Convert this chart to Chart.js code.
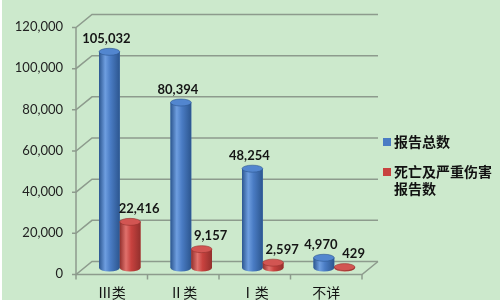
<!DOCTYPE html>
<html>
<head>
<meta charset="utf-8">
<script src="https://cdn.jsdelivr.net/npm/chart.js@4/dist/chart.umd.min.js"></script>
<style>
  html, body { margin: 0; padding: 0; background: #ffffff; }
  #chart { display: block; }
</style>
</head>
<body>
<canvas id="chart" width="500" height="305"></canvas>
<script>
const categories = ['Ⅲ类', 'Ⅱ类', 'Ⅰ类', '不详'];
const totalReports = [105032, 80394, 48254, 4970];
const seriousReports = [22416, 9157, 2597, 429];
const seriesNames = ['报告总数', '死亡及严重伤害报告数'];
const yMin = 0;
const yMax = 120000;
const yStep = 20000;

const cylinder_colors = [
    {edge: '#2c568f', mid: '#4a7cc4', light: '#6e9ee0', top: '#5286cf'},
    {edge: '#93302d', mid: '#c8423f', light: '#e0716c', top: '#d25552'}
];

const depth = {dx: 8, dy: 6.5};   // half depth of the fake 3D box
const line_color = '#8d9b8d';

// green panel (the picture has a thin white margin left and bottom)
const panelPlugin = {
    id: 'panel',
    beforeDraw(chart) {
        const ctx = chart.ctx;
        ctx.save();
        ctx.fillStyle = '#cce9cc';
        ctx.fillRect(2, 0, chart.width - 2, chart.height - 5);
        ctx.restore();
    }
};

// back wall, left wall and floor of the 3D box
const boxPlugin = {
    id: 'box3d',
    beforeDatasetsDraw(chart) {
        const ctx = chart.ctx;
        const ys = chart.scales.y;
        const xs = chart.scales.x;
        const {left, right, top, bottom} = chart.chartArea;
        const dx = depth.dx, dy = depth.dy;

        ctx.save();
        ctx.strokeStyle = line_color;
        ctx.lineWidth = 1.5;

        ys.ticks.forEach(t => {
            const py = ys.getPixelForValue(t.value);
            ctx.beginPath();
            ctx.moveTo(left - dx - 4, py + dy);
            ctx.lineTo(left - dx, py + dy);
            ctx.lineTo(left + dx, py - dy);
            ctx.lineTo(right + dx, py - dy);
            ctx.stroke();
        });

        // front vertical axis + floor front edge
        ctx.beginPath();
        ctx.moveTo(left - dx, top + dy);
        ctx.lineTo(left - dx, bottom + dy);
        ctx.lineTo(right - dx, bottom + dy);
        ctx.lineTo(right + dx, bottom - dy);
        ctx.stroke();

        // category tick marks
        for (let i = 0; i <= categories.length; i++) {
            const bx = xs.getPixelForValue(i - 0.5) - dx;
            ctx.beginPath();
            ctx.moveTo(bx, bottom + dy);
            ctx.lineTo(bx, bottom + dy + 5);
            ctx.stroke();
        }
        ctx.restore();
    }
};

// paint the bars as cylinders, using the positions chart.js computed
const cylinderPlugin = {
    id: 'cylinders',
    afterDatasetsDraw(chart) {
        const ctx = chart.ctx;
        chart.data.datasets.forEach((ds, di) => {
            const meta = chart.getDatasetMeta(di);
            if (meta.hidden) return;
            const c = cylinder_colors[di];
            meta.data.forEach(bar => {
                const {x, y, base, width} = bar.getProps(['x', 'y', 'base', 'width'], true);
                const rx = width / 2;
                const ry = 3.5;
                const grad = ctx.createLinearGradient(x - rx, 0, x + rx, 0);
                grad.addColorStop(0, c.edge);
                grad.addColorStop(0.3, c.light);
                grad.addColorStop(0.55, c.mid);
                grad.addColorStop(1, c.edge);

                ctx.save();
                ctx.fillStyle = grad;
                ctx.beginPath();
                ctx.moveTo(x - rx, y);
                ctx.lineTo(x - rx, base);
                ctx.ellipse(x, base, rx, ry, 0, Math.PI, 0, true);
                ctx.lineTo(x + rx, y);
                ctx.closePath();
                ctx.fill();

                ctx.beginPath();
                ctx.ellipse(x, y, rx, ry, 0, 0, Math.PI * 2);
                ctx.fillStyle = c.top;
                ctx.fill();
                ctx.strokeStyle = c.edge;
                ctx.lineWidth = 0.6;
                ctx.stroke();
                ctx.restore();
            });
        });
    }
};

// value labels above each cylinder
const valueLabelPlugin = {
    id: 'valueLabels',
    afterDatasetsDraw(chart, args, opts) {
        const ctx = chart.ctx;
        ctx.save();
        ctx.font = 'bold 13px Lato';
        ctx.fillStyle = '#151515';
        ctx.textAlign = 'center';
        ctx.textBaseline = 'middle';
        chart.data.datasets.forEach((ds, di) => {
            const meta = chart.getDatasetMeta(di);
            meta.data.forEach((bar, i) => {
                const {x, y} = bar.getProps(['x', 'y'], true);
                ctx.fillText(ds.data[i].toLocaleString('en-US'), x + opts.shift[di], y - 13);
            });
        });
        ctx.restore();
    }
};

// legend on the right, wrapped like the original
const sideLegendPlugin = {
    id: 'sideLegend',
    afterDraw(chart, args, opts) {
        const ctx = chart.ctx;
        ctx.save();
        ctx.font = 'bold 14px "Noto Sans CJK SC"';
        ctx.textBaseline = 'middle';
        ctx.fillStyle = '#111';
        let y = opts.top;
        chart.data.datasets.forEach((ds, di) => {
            // wrap label by characters
            const lines = [];
            let cur = '';
            for (const ch of ds.label) {
                if (ctx.measureText(cur + ch).width > opts.maxWidth && cur) {
                    lines.push(cur);
                    cur = ch;
                } else {
                    cur += ch;
                }
            }
            lines.push(cur);

            ctx.fillStyle = cylinder_colors[di].mid;
            ctx.fillRect(opts.x, y - 4, 8, 8);
            ctx.fillStyle = '#111';
            lines.forEach((ln, li) => ctx.fillText(ln, opts.x + 11, y + li * opts.lineHeight));
            y += lines.length * opts.lineHeight + opts.gap;
        });
        ctx.restore();
    }
};

new Chart(document.getElementById('chart'), {
    type: 'bar',
    data: {
        labels: categories,
        datasets: [
            {label: seriesNames[0], data: totalReports, backgroundColor: cylinder_colors[0].mid},
            {label: seriesNames[1], data: seriousReports, backgroundColor: cylinder_colors[1].mid}
        ]
    },
    options: {
        responsive: false,
        animation: false,
        devicePixelRatio: 1,
        layout: {padding: {top: 21, right: 130, left: 0, bottom: 0}},
        datasets: {bar: {categoryPercentage: 0.58, barPercentage: 1.0, borderWidth: 0}},
        scales: {
            y: {
                min: yMin,
                max: yMax,
                grid: {display: false, drawTicks: false},
                border: {display: false},
                ticks: {
                    stepSize: yStep,
                    padding: 21,
                    labelOffset: 6,
                    color: '#222',
                    font: {family: 'Lato', size: 13},
                    callback: v => v.toLocaleString('en-US')
                },
                afterFit(scale) {
                    scale.width = 84;
                    scale.paddingTop = 0;
                    scale.paddingBottom = 0;
                }
            },
            x: {
                grid: {display: false, drawTicks: false},
                border: {display: false},
                ticks: {
                    padding: 16,
                    labelOffset: -8,
                    maxRotation: 0,
                    color: '#111',
                    font: {family: '"Noto Sans CJK SC"', size: 14}
                },
                afterFit(scale) {
                    scale.height = 37;
                    scale.paddingLeft = 0;
                    scale.paddingRight = 0;
                }
            }
        },
        plugins: {
            legend: {display: false},
            tooltip: {enabled: false},
            valueLabels: {shift: [-3, 9]},
            sideLegend: {x: 383, top: 142, maxWidth: 100, lineHeight: 17, gap: 13}
        }
    },
    plugins: [panelPlugin, boxPlugin, cylinderPlugin, valueLabelPlugin, sideLegendPlugin]
});
</script>
</body>
</html>
